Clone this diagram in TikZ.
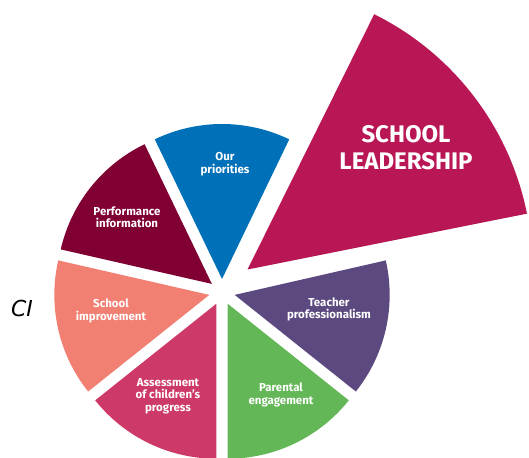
\documentclass[tikz,border=0pt]{standalone}
\usepackage{fontspec}
\setmainfont{Fira Sans}
\newfontfamily\handfont{DejaVu Sans}
\usepackage{tikz}
\definecolor{leadcol}{HTML}{B91655}
\definecolor{priocol}{HTML}{0070B9}
\definecolor{perfcol}{HTML}{800034}
\definecolor{impcol}{HTML}{F28072}
\definecolor{asscol}{HTML}{CE3A68}
\definecolor{parcol}{HTML}{64B756}
\definecolor{teachcol}{HTML}{5C497F}

\begin{document}
\begin{tikzpicture}[x=1pt, y=1pt,
  slicetext/.style={text=white, align=center, font=\bfseries\fontsize{11.5}{12.5}\selectfont},
  bigtext/.style={text=white, align=center, font=\bfseries\fontsize{24}{27}\selectfont}]
  \useasboundingbox (-222,-165) rectangle (307,292);
  \fill [leadcol] (25.5,22.5) -- ++(11.3:285) arc [start angle=11.3, end angle=63.6, radius=285pt] -- cycle;
  \fill [priocol] (90:13) -- ++(64.29:155) arc [start angle=64.29, end angle=115.71, radius=155pt] -- cycle;
  \fill [perfcol] (141.43:13) -- ++(115.71:155) arc [start angle=115.71, end angle=167.14, radius=155pt] -- cycle;
  \fill [impcol] (192.86:13) -- ++(167.14:155) arc [start angle=167.14, end angle=218.57, radius=155pt] -- cycle;
  \fill [asscol] (244.29:13) -- ++(218.57:155) arc [start angle=218.57, end angle=270, radius=155pt] -- cycle;
  \fill [parcol] (295.71:13) -- ++(270:155) arc [start angle=270, end angle=321.43, radius=155pt] -- cycle;
  \fill [teachcol] (347.14:13) -- ++(321.43:155) arc [start angle=321.43, end angle=372.86, radius=155pt] -- cycle;
  \node (lead) at (184,144) [bigtext] {SCHOOL\\LEADERSHIP};
  \node (prio) at (3,128) [slicetext] {Our\\priorities};
  \node (perf) at (-95,75) [slicetext] {Performance\\information};
  \node (imp) at (-111,-19) [slicetext] {School\\improvement};
  \node (ass) at (-54,-104) [slicetext] {Assessment\\of children's\\progress};
  \node (par) at (59,-103) [slicetext] {Parental\\engagement};
  \node (teach) at (107,-17.5) [slicetext] {Teacher\\professionalism};
  \node (ci) at (-200,-16) [font=\handfont\itshape\fontsize{22}{22}\selectfont] {CI};
\end{tikzpicture}
\end{document}
